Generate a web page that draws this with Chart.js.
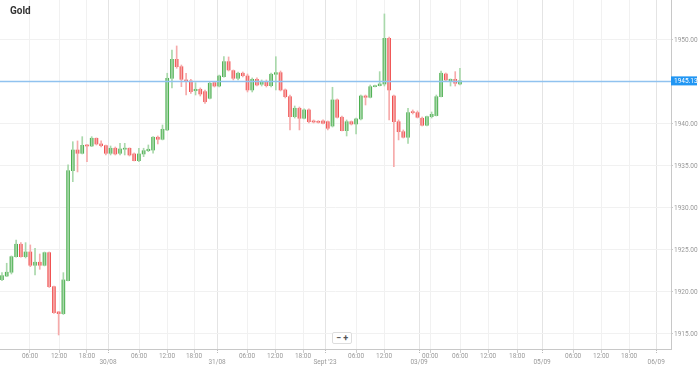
<!DOCTYPE html>
<html>
<head>
<meta charset="utf-8">
<script src="https://cdn.jsdelivr.net/npm/chart.js@4/dist/chart.umd.min.js"></script>
<style>
    body { margin: 0; background: #fff; }
    #wrap { position: relative; width: 699px; height: 366px; }
    #title { position: absolute; left: 10px; top: 5px; font: bold 10px Roboto, sans-serif; color: #333; }
    #zoomCtl { position: absolute; left: 332px; top: 332px; width: 18px; height: 10px; border: 1px solid #ddd; border-radius: 2px;
        background: #fff; font: bold 9px Roboto, sans-serif; line-height: 10px; color: #555; text-align: center; }
</style>
</head>
<body>
<div id="wrap">
    <canvas id="goldChart" width="699" height="366"></canvas>
    <div id="title">Gold</div>
    <div id="zoomCtl">&minus; +</div>
</div>
<script>
// hourly candles (index 0 = first candle)
var opens = [1921.46, 1921.90, 1922.35, 1924.20, 1925.68, 1924.20, 1924.76, 1923.18, 1923.54, 1923.18,
    1924.68, 1920.63, 1917.62, 1917.42, 1921.35, 1934.44, 1936.90, 1936.51, 1937.50, 1937.38,
    1938.30, 1937.62, 1937.42, 1936.51, 1937.11, 1936.51, 1937.00, 1937.11, 1936.43, 1935.63,
    1936.43, 1936.82, 1936.90, 1938.42, 1938.18, 1939.29, 1945.44, 1947.70, 1946.82, 1945.24,
    1945.12, 1943.96, 1944.13, 1943.85, 1943.06, 1944.92, 1944.52, 1945.63, 1947.42, 1946.35,
    1945.44, 1946.04, 1945.71, 1944.05, 1945.32, 1944.73, 1945.04, 1944.56, 1945.92, 1946.11,
    1944.05, 1943.25, 1940.87, 1941.87, 1940.68, 1941.67, 1940.36, 1940.30, 1940.36, 1940.27,
    1939.76, 1942.86, 1940.80, 1939.20, 1940.27, 1940.00, 1940.60, 1943.33, 1943.18, 1944.44,
    1944.56, 1944.76, 1950.20, 1943.33, 1940.27, 1939.08, 1938.42, 1941.46, 1941.35, 1940.68,
    1939.85, 1940.87, 1941.00, 1943.25, 1945.95, 1945.16, 1945.32, 1944.76];
var highs = [1922.30, 1923.42, 1924.29, 1926.19, 1925.87, 1925.87, 1925.60, 1925.20, 1924.52, 1924.76,
    1924.76, 1920.71, 1917.65, 1922.30, 1935.15, 1937.89, 1937.98, 1938.49, 1937.55, 1938.49,
    1938.33, 1937.98, 1937.50, 1937.38, 1937.26, 1937.70, 1937.70, 1937.14, 1936.55, 1937.11,
    1937.11, 1937.50, 1938.49, 1938.57, 1939.88, 1946.04, 1948.81, 1949.29, 1947.02, 1946.04,
    1945.32, 1944.92, 1944.29, 1944.05, 1945.00, 1945.00, 1945.83, 1948.01, 1947.98, 1946.43,
    1946.19, 1946.19, 1945.95, 1945.48, 1945.48, 1945.24, 1945.24, 1946.07, 1948.01, 1946.31,
    1944.17, 1943.45, 1942.14, 1942.02, 1941.79, 1941.79, 1940.48, 1940.40, 1940.48, 1940.36,
    1944.37, 1942.98, 1940.95, 1940.48, 1940.36, 1940.71, 1943.45, 1943.45, 1944.64, 1944.64,
    1946.23, 1953.10, 1950.36, 1943.45, 1940.48, 1939.29, 1941.87, 1941.67, 1941.55, 1940.83,
    1940.95, 1941.43, 1943.45, 1946.31, 1946.07, 1945.36, 1946.23, 1946.63];
var lows = [1921.35, 1921.82, 1922.14, 1924.13, 1924.13, 1924.05, 1923.01, 1922.02, 1922.70, 1923.10,
    1920.54, 1917.46, 1914.88, 1917.32, 1921.31, 1933.13, 1934.29, 1936.43, 1935.51, 1937.30,
    1937.50, 1937.26, 1936.31, 1936.31, 1936.31, 1936.31, 1936.31, 1936.19, 1935.60, 1935.51,
    1936.11, 1936.70, 1936.51, 1937.62, 1938.10, 1939.20, 1944.29, 1946.63, 1944.44, 1943.45,
    1943.65, 1943.45, 1943.33, 1942.46, 1942.98, 1944.40, 1944.40, 1945.56, 1946.31, 1945.24,
    1945.24, 1945.60, 1943.81, 1943.81, 1944.52, 1944.52, 1944.40, 1944.40, 1944.05, 1943.93,
    1943.10, 1939.29, 1940.71, 1939.29, 1940.60, 1940.12, 1940.12, 1940.10, 1940.00, 1939.29,
    1939.64, 1940.71, 1939.17, 1938.57, 1939.88, 1938.81, 1940.48, 1942.26, 1943.10, 1944.40,
    1944.52, 1944.52, 1940.48, 1934.92, 1938.10, 1938.33, 1937.70, 1941.19, 1940.71, 1939.76,
    1939.76, 1940.71, 1940.95, 1943.21, 1945.12, 1944.52, 1944.52, 1944.64];
var closes = [1921.94, 1922.35, 1924.20, 1925.68, 1924.20, 1924.76, 1923.18, 1923.54, 1923.18, 1924.68,
    1920.63, 1917.54, 1917.42, 1921.43, 1934.44, 1936.90, 1936.51, 1937.46, 1937.38, 1938.30,
    1937.62, 1937.42, 1936.51, 1937.11, 1936.43, 1937.02, 1937.11, 1936.31, 1935.63, 1936.43,
    1936.82, 1936.99, 1938.42, 1938.18, 1939.37, 1945.44, 1947.70, 1946.82, 1945.32, 1945.12,
    1943.85, 1944.13, 1943.57, 1942.65, 1944.85, 1944.52, 1945.71, 1947.42, 1946.43, 1945.44,
    1946.04, 1945.75, 1944.05, 1945.32, 1944.64, 1945.04, 1944.56, 1945.92, 1946.11, 1944.05,
    1943.25, 1940.87, 1941.87, 1940.68, 1941.67, 1940.27, 1940.24, 1940.20, 1940.08, 1939.49,
    1942.86, 1940.80, 1939.20, 1940.27, 1940.00, 1940.60, 1943.33, 1943.18, 1944.44, 1944.56,
    1944.76, 1950.20, 1944.05, 1940.27, 1939.08, 1938.42, 1941.35, 1941.35, 1940.80, 1939.85,
    1940.87, 1941.15, 1943.25, 1946.04, 1945.24, 1945.32, 1944.85, 1945.13];

// x axis ticks (in candle index units) and their labels
var xTickPos = [5.93, 12.08, 18.0, 22.46, 29.03, 34.96, 40.68, 45.55, 51.9, 57.84, 63.77, 68.43,
    75.0, 80.93, 88.35, 90.68, 97.03, 102.97, 109.1, 114.4, 120.97, 126.9, 132.84, 138.56];
var xTickLabels = ['06:00', '12:00', '18:00', '30/08', '06:00', '12:00', '18:00', '31/08', '06:00', '12:00', '18:00', "Sept '23",
    '06:00', '12:00', '03/09', '00:00', '06:00', '12:00', '18:00', '05/09', '06:00', '12:00', '18:00', '06/09'];
var xDateTicks = ['30/08', '31/08', "Sept '23", '03/09', '05/09', '06/09'];

var yTicks = [1915, 1920, 1925, 1930, 1935, 1940, 1945, 1950];

var upColor = '#4caf50';
var downColor = '#f05252';
var upWick = '#a9d8ab';
var downWick = '#f6aaaa';

function isUp(i) {
    return closes[i] >= opens[i];
}

function isDateTick(i) {
    return xDateTicks.includes(xTickLabels[i]);
}

var bodyData = [];
var wickData = [];
for (var i = 0; i < opens.length; i++) {
    bodyData.push({ x: i, y: [opens[i], closes[i]] });
    wickData.push({ x: i, y: [lows[i], highs[i]] });
}

// last price line + blue label on the axis
var lastPricePlugin = {
    id: 'lastPrice',
    afterDatasetsDraw: function(chart) {
        var ctx = chart.ctx;
        var area = chart.chartArea;
        var y = Math.round(chart.scales.y.getPixelForValue(closes[closes.length - 1])) + 0.5;
        ctx.save();
        ctx.strokeStyle = '#90c2ef';
        ctx.lineWidth = 1.5;
        ctx.beginPath();
        ctx.moveTo(area.left, y);
        ctx.lineTo(area.right, y);
        ctx.stroke();
        ctx.restore();
    },
    afterDraw: function(chart) {
        var ctx = chart.ctx;
        var area = chart.chartArea;
        var last = closes[closes.length - 1];
        var y = chart.scales.y.getPixelForValue(last);
        ctx.save();
        ctx.fillStyle = '#2196f3';
        ctx.fillRect(area.right, y - 4.5, 26, 9);
        ctx.fillStyle = '#fff';
        ctx.font = '6.5px Roboto, sans-serif';
        ctx.textBaseline = 'middle';
        ctx.textAlign = 'left';
        ctx.fillText(last.toFixed(2), area.right + 3, y + 0.5);
        ctx.restore();
    }
};

var ctx = document.getElementById('goldChart').getContext('2d');
var goldChart = new Chart(ctx, {
    type: 'bar',
    data: {
        datasets: [{
            label: 'wick',
            data: wickData,
            barThickness: 1,
            grouped: false,
            backgroundColor: function(c) { return isUp(c.dataIndex) ? upWick : downWick; },
            borderWidth: 0
        }, {
            label: 'body',
            data: bodyData,
            barThickness: 3,
            minBarLength: 1,
            grouped: false,
            backgroundColor: function(c) { return isUp(c.dataIndex) ? upColor : downColor; },
            borderWidth: 0
        }]
    },
    options: {
        responsive: false,
        animation: false,
        devicePixelRatio: 1,
        layout: { padding: 0 },
        plugins: {
            legend: { display: false },
            tooltip: { enabled: false },
            title: { display: false }
        },
        scales: {
            x: {
                type: 'linear',
                min: -0.42,
                max: 141.7,
                offset: false,
                afterBuildTicks: function(scale) {
                    scale.ticks = xTickPos.map(function(v) { return { value: v }; });
                },
                afterFit: function(scale) {
                    scale.height = 17;
                    scale.paddingLeft = 0;
                    scale.paddingRight = 0;
                },
                ticks: {
                    autoSkip: false,
                    maxRotation: 0,
                    padding: 0,
                    color: '#999',
                    font: { family: 'Roboto, sans-serif', size: 6.5, lineHeight: 1.0 },
                    callback: function(value, index) {
                        var label = xTickLabels[index];
                        if (isDateTick(index)) {
                            return ['', label];
                        }
                        return label;
                    }
                },
                grid: {
                    offset: false,
                    tickLength: 4,
                    color: function(c) { return isDateTick(c.index) ? '#e4e4e4' : '#f1f1f1'; },
                    tickColor: function(c) { return isDateTick(c.index) ? '#bbb' : '#ccc'; },
                    tickBorderDash: function(c) { return isDateTick(c.index) ? [1, 1] : []; }
                },
                border: { color: '#c8c8c8' }
            },
            y: {
                position: 'right',
                min: 1913.21,
                max: 1954.76,
                afterBuildTicks: function(scale) {
                    scale.ticks = yTicks.map(function(v) { return { value: v }; });
                },
                afterFit: function(scale) {
                    scale.width = 28;
                    scale.paddingTop = 0;
                    scale.paddingBottom = 0;
                },
                ticks: {
                    padding: 1,
                    color: '#999',
                    font: { family: 'Roboto, sans-serif', size: 6.5 },
                    callback: function(value) {
                        return value.toFixed(2);
                    }
                },
                grid: {
                    tickLength: 2,
                    color: '#f1f1f1',
                    tickColor: '#ccc'
                },
                border: { color: '#c8c8c8', width: 1 }
            }
        }
    },
    plugins: [lastPricePlugin]
});
</script>
</body>
</html>
